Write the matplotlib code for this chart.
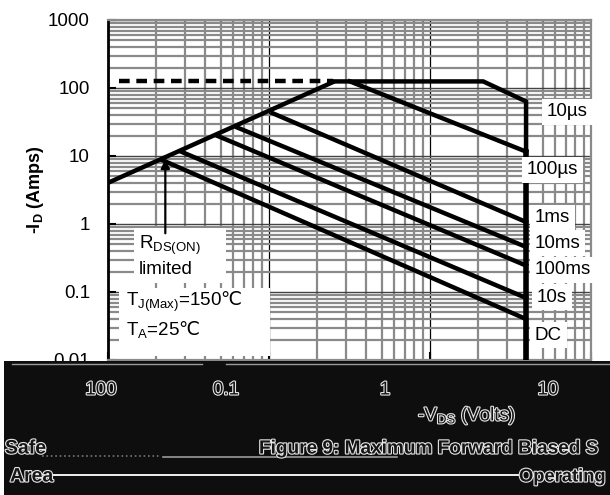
import matplotlib
matplotlib.use("Agg")
import matplotlib.pyplot as plt
from matplotlib.patches import Rectangle
import matplotlib.patheffects as pe

plt.rcParams['font.family'] = ['Liberation Sans', 'DejaVu Sans']
plt.rcParams['mathtext.fontset'] = 'custom'
plt.rcParams['mathtext.rm'] = 'Liberation Sans'
plt.rcParams['mathtext.it'] = 'Liberation Sans'
plt.rcParams['mathtext.bf'] = 'Liberation Sans:bold'
plt.rcParams['mathtext.sf'] = 'DejaVu Sans'

# ---------------- data ----------------
rds_v = [0.01, 0.255]
rds_i = [4.03, 125]
dash_v = [0.0117, 0.25]
dash_i = [125, 125]
us10_v = [0.255, 2.14, 3.95, 3.95]
us10_i = [125, 125, 63.4, 11.6]
us100_v = [0.318, 3.95]
us100_i = [125, 11.6]
ms1_v = [0.105, 3.95]
ms1_i = [42.7, 1.07]
ms10_v = [0.0636, 3.95]
ms10_i = [26.2, 0.46]
ms100_v = [0.048, 3.95]
ms100_i = [19.7, 0.245]
s10_v = [0.0284, 3.95]
s10_i = [11.6, 0.0818]
dc_v = [0.0215, 3.95, 3.95]
dc_i = [8.8, 0.04, 0.01]
vmax_v = [3.95, 3.95]
vmax_i = [11.6, 0.01]
arrow_v = 0.0227
arrow_i = [0.73, 8.9]

curve_labels = ["10µs", "100µs", "1ms", "10ms", "100ms", "10s", "DC"]
ytick_vals = [0.01, 0.1, 1, 10, 100, 1000]
ytick_labels = ["0.01", "0.1", "1", "10", "100", "1000"]
band_xlabels = ["100", "0.1", "1", "10"]

# ---------------- figure ----------------
W, H = 610, 495
fig = plt.figure(figsize=(W / 100, H / 100), dpi=100)
fig.patch.set_facecolor('white')

L, R, T, B = 108, 591, 20, 360
ax = fig.add_axes([L / W, 1 - B / H, (R - L) / W, (B - T) / H])
ax.set_xscale('log')
ax.set_yscale('log')
ax.set_xlim(0.01, 10)
ax.set_ylim(0.01, 1000)
ax.set_axisbelow(True)

ax.grid(which='minor', color='#8a8a8a', lw=1.6)
ax.grid(which='major', axis='x', color='black', lw=0.9)
ax.grid(which='major', axis='y', color='#444444', lw=1.0)

ax.set_yticks(ytick_vals)
ax.set_yticklabels(ytick_labels, fontsize=13.5)
ax.tick_params(axis='y', which='major', direction='in', length=6, width=1.5,
               pad=13, colors='black')
ax.tick_params(axis='y', which='minor', length=0)
ax.tick_params(axis='x', which='major', direction='in', length=6, width=1.5,
               labelbottom=False)
ax.tick_params(axis='x', which='minor', length=0)
for s in ['top', 'right', 'bottom']:
    ax.spines[s].set_color('#8a8a8a')
    ax.spines[s].set_linewidth(1.6)
ax.spines['left'].set_color('black')
ax.spines['left'].set_linewidth(2)

lw = 3.2
ax.plot(rds_v, rds_i, color='black', lw=lw, solid_capstyle='butt', zorder=3)
ax.plot(dash_v, dash_i, color='black', lw=lw, linestyle=(0, (2.4, 1.5)), zorder=3)
for xs, ys in [(us10_v, us10_i), (us100_v, us100_i), (ms1_v, ms1_i),
               (ms10_v, ms10_i), (ms100_v, ms100_i), (s10_v, s10_i),
               (dc_v, dc_i)]:
    ax.plot(xs, ys, color='black', lw=lw, solid_joinstyle='miter', zorder=3)
ax.plot(vmax_v, vmax_i, color='black', lw=4, zorder=3)

ax.annotate('', xy=(arrow_v, arrow_i[1]), xytext=(arrow_v, arrow_i[0]),
            arrowprops=dict(arrowstyle='-|>', color='black', lw=1.6,
                            mutation_scale=13, shrinkA=0, shrinkB=0),
            zorder=4)

def fx(px):
    return (px - L) / (R - L)

def fy(py):
    return (B - py) / (B - T)

# white boxes covering grid
ax.add_patch(Rectangle((fx(134), fy(283)), fx(226) - fx(134), fy(228) - fy(283),
                       transform=ax.transAxes, facecolor='white', edgecolor='none', zorder=3.5))
ax.add_patch(Rectangle((fx(119), fy(356)), fx(270) - fx(119), fy(288) - fy(356),
                       transform=ax.transAxes, facecolor='white', edgecolor='none', zorder=3.5))

fs = 13.5
ax.text(fx(139), fy(245), r'R$_{\mathrm{DS(ON)}}$', transform=ax.transAxes,
        fontsize=fs, va='center', ha='left', zorder=5)
ax.text(fx(139), fy(270), 'limited', transform=ax.transAxes,
        fontsize=fs, va='center', ha='left', zorder=5)
ax.text(fx(126), fy(302), r'T$_{\mathrm{J(Max)}}$=150$\mathsf{℃}$', transform=ax.transAxes,
        fontsize=fs, va='center', ha='left', zorder=5)
ax.text(fx(126), fy(330), r'T$_{\mathrm{A}}$=25$\mathsf{℃}$', transform=ax.transAxes,
        fontsize=fs, va='center', ha='left', zorder=5)

label_pos = [(547, 112), (527, 170), (535, 218), (535, 243), (535, 270),
             (537, 297), (535, 335)]
for lab, (px, py) in zip(curve_labels, label_pos):
    ax.text(fx(px), fy(py), lab, transform=ax.transAxes, fontsize=fs,
            va='center', ha='left', zorder=5, clip_on=False,
            bbox=dict(boxstyle='square,pad=0.25', facecolor='white', edgecolor='none'))

fig.text(35 / W, 1 - 190 / H, r'-I$_{\mathbf{D}}$ (Amps)', rotation=90,
         fontsize=13, fontweight='bold', ha='center', va='center')

# ---------------- corrupted black band at bottom ----------------
ov = fig.add_axes([0, 0, 1, 1], zorder=10)
ov.set_xlim(0, W)
ov.set_ylim(H, 0)
ov.axis('off')
ov.patch.set_alpha(0)
ov.add_patch(Rectangle((4, 361), W - 4, H - 361, facecolor='#0e0e0e', edgecolor='none'))
ov.plot([12, 202], [364, 364], color='#9a9a9a', lw=1)
ov.plot([226, 610], [364, 364], color='#9a9a9a', lw=1)
ov.plot([163, 397], [457, 457], color='#9a9a9a', lw=1.2)
ov.plot([42, 160], [456, 456], color='#777777', lw=1.2, linestyle=':')
ov.plot([54, 518], [475, 475], color='#f0f0f0', lw=1.4)

outline = [pe.withStroke(linewidth=1.6, foreground='#e6e6e6')]
for lab, px in zip(band_xlabels, [101, 226, 385, 548]):
    ov.text(px, 390, lab, fontsize=13.5, color='#151515', ha='center', va='center',
            path_effects=outline)
ov.text(467, 416, r'-V$_{\mathrm{DS}}$ (Volts)', fontsize=13.5, color='#151515',
        ha='center', va='center', path_effects=outline)
ov.text(5, 449, 'Safe', fontsize=14, fontweight='bold', color='#151515',
        ha='left', va='center', path_effects=outline)
ov.text(259, 449, 'Figure 9: Maximum Forward Biased S', fontsize=13.7,
        fontweight='bold', color='#151515', ha='left', va='center',
        path_effects=outline)
ov.text(10, 477, 'Area', fontsize=14, fontweight='bold', color='#151515',
        ha='left', va='center', path_effects=outline)
ov.text(519, 477, 'Operating', fontsize=13.2, fontweight='bold', color='#151515',
        ha='left', va='center', path_effects=outline)

fig.savefig('out.png', dpi=100, facecolor='white')
